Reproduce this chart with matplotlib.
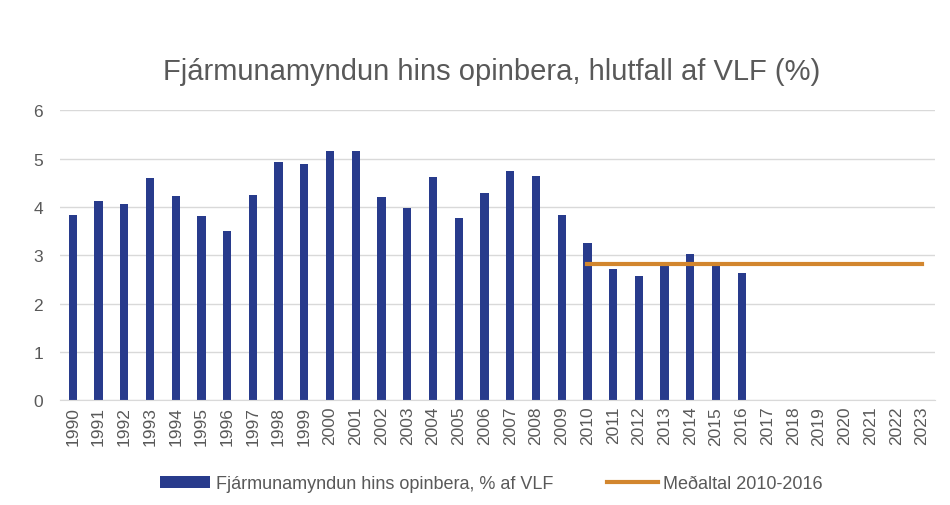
import numpy as np
import matplotlib.pyplot as plt

plt.rcParams['font.family'] = ['Liberation Sans', 'DejaVu Sans']

# Gögn
ar = [str(a) for a in range(1990, 2024)]
fjarmunamyndun = [3.84, 4.12, 4.07, 4.59, 4.22, 3.81, 3.50, 4.24, 4.93, 4.88,
                  5.16, 5.16, 4.20, 3.97, 4.63, 3.77, 4.29, 4.75, 4.65, 3.84,
                  3.26, 2.72, 2.57, 2.79, 3.02, 2.80, 2.63]
medaltal_ar = ar[20:]
medaltal = [2.83] * len(medaltal_ar)

blar = '#283b8c'
appelsinugulur = '#d2862e'
grar = '#595959'

fig = plt.figure(figsize=(9.5, 5.06), dpi=100)
ax = fig.add_axes([0.063, 0.207, 0.921, 0.573])

x = np.arange(len(ar))
stolpar = ax.bar(x[:len(fjarmunamyndun)], fjarmunamyndun, width=0.32, color=blar,
                 label='Fjármunamyndun hins opinbera, % af VLF', zorder=2)
lina, = ax.plot(x[20:20 + len(medaltal)], medaltal, color=appelsinugulur, lw=3,
                label='Meðaltal 2010-2016', zorder=3)

ax.set_xlim(-0.5, len(ar) - 0.5)
ax.set_ylim(0, 6)
ax.set_yticks(range(0, 7))
ax.set_xticks(x)
ax.set_xticklabels(ar, rotation=90)
ax.tick_params(axis='both', colors=grar, labelsize=12.5, length=0)
ax.tick_params(axis='x', pad=4)
ax.tick_params(axis='y', pad=12)
ax.grid(axis='y', color='#d9d9d9', lw=1, zorder=0)
for s in ['top', 'right', 'left']:
    ax.spines[s].set_visible(False)
ax.spines['bottom'].set_color('#d9d9d9')

fig.suptitle('Fjármunamyndun hins opinbera, hlutfall af VLF (%)', x=0.517, y=0.885,
             fontsize=21, color=grar)

fig.legend(handles=[stolpar, lina], loc='center', bbox_to_anchor=(0.517, 0.042),
           ncol=2, frameon=False, fontsize=13, labelcolor=grar, handlelength=2.8,
           columnspacing=3.0, handletextpad=0.3)

fig.savefig('out.png', dpi=100)
